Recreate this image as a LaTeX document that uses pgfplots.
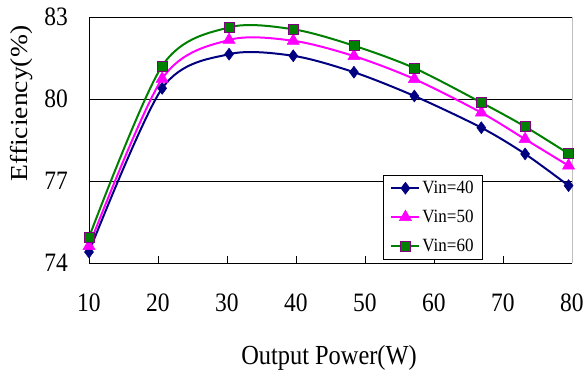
\documentclass[border=0pt]{standalone}
\usepackage{graphicx}
\usepackage{pgfplots}
\pgfplotsset{compat=1.18}
\usepackage{fontspec}
\setmainfont{Liberation Serif}
\definecolor{cNavy}{RGB}{0,0,128}
\definecolor{cMag}{RGB}{255,0,255}
\definecolor{cGreen}{RGB}{0,128,0}
\definecolor{cPurp}{RGB}{128,0,128}
\newcommand{\vs}[1]{\scalebox{1}[1.13]{#1}}
\begin{document}
\begin{tikzpicture}
\useasboundingbox (-89pt,-108pt) rectangle (497pt,263pt);
\begin{axis}[
  at={(0,0)}, anchor=south west,
  scale only axis, width=483pt, height=246pt,
  xmin=10, xmax=80, ymin=74, ymax=83,
  xtick={10,20,...,80}, ytick={74,77,80,83},
  axis x line*=bottom, axis y line*=left,
  axis line style={black, line width=0.8pt},
  tick align=inside, major tick length=7pt,
  xtick style={black, line width=0.6pt},
  ytick style={draw=none},
  ymajorgrids, grid style={black, line width=0.6pt},
  /pgf/number format/assume math mode=true,
  tick label style={font=\fontsize{23.5}{23.5}\selectfont, inner sep=0pt},
  xticklabel={\vs{\pgfmathprintnumber{\tick}}},
  yticklabel={\vs{\pgfmathprintnumber{\tick}}},
  xticklabel style={anchor=center, yshift=-39.5pt},
  yticklabel style={anchor=east, xshift=-21pt},
  xlabel={\vs{Output Power(W)}},
  ylabel={\scalebox{1.13}[1]{Efficiency(\%)}},
  label style={font=\fontsize{24.4}{24.4}\selectfont},
  xlabel style={at={(axis description cs:0.497,-0.384)}, anchor=center},
  ylabel style={at={(axis description cs:-0.139,0.648)}, anchor=center},
  clip=false,
  legend style={at={(axis description cs:0.609,0.358)}, anchor=north west,
    font=\fontsize{17}{17}\selectfont, draw=black, line width=0.6pt,
    inner xsep=7pt, inner ysep=4pt, row sep=11pt},
  legend cell align=left,
  legend image code/.code={\draw[#1, line width=2pt] (0pt,0pt) -- (28pt,0pt);
     \draw[#1, mark repeat=2, mark phase=2] plot coordinates {(0pt,0pt) (14pt,0pt) (28pt,0pt)};},
]
\addplot[cNavy, line width=2pt, smooth, tension=0.5, mark=diamond*, mark size=6pt, mark options={fill=cNavy, draw=cNavy, line width=0.5pt}]
  coordinates {(10,74.40) (20.6,80.39) (30.3,81.64) (39.6,81.58) (48.4,80.98) (57.15,80.11) (66.86,78.95) (73.2,77.99) (79.5,76.83)};
\addlegendentry{\scalebox{1}[1.1]{Vin=40}}
\addplot[cMag, line width=2pt, smooth, tension=0.5, mark=triangle*, mark size=7pt, mark options={fill=cMag, draw=cMag, line width=0.5pt}]
  coordinates {(10,74.62) (20.6,80.74) (30.3,82.16) (39.6,82.13) (48.4,81.57) (57.15,80.73) (66.86,79.50) (73.2,78.53) (79.5,77.56)};
\addlegendentry{\scalebox{1}[1.1]{Vin=50}}
\addplot[cGreen, line width=2pt, smooth, tension=0.5, mark=square*, mark size=5pt, mark options={fill=cGreen, draw=cPurp, line width=0.8pt}]
  coordinates {(10,74.94) (20.6,81.21) (30.3,82.62) (39.6,82.55) (48.4,81.95) (57.15,81.13) (66.86,79.87) (73.2,78.99) (79.5,78.00)};
\addlegendentry{\scalebox{1}[1.1]{Vin=60}}
\draw[gray!50, line width=0.8pt] (rel axis cs:1,0) -- (rel axis cs:1,1);
\draw[black, line width=0.6pt] (rel axis cs:0,1) -- (rel axis cs:1,1);
\end{axis}
\end{tikzpicture}
\end{document}
